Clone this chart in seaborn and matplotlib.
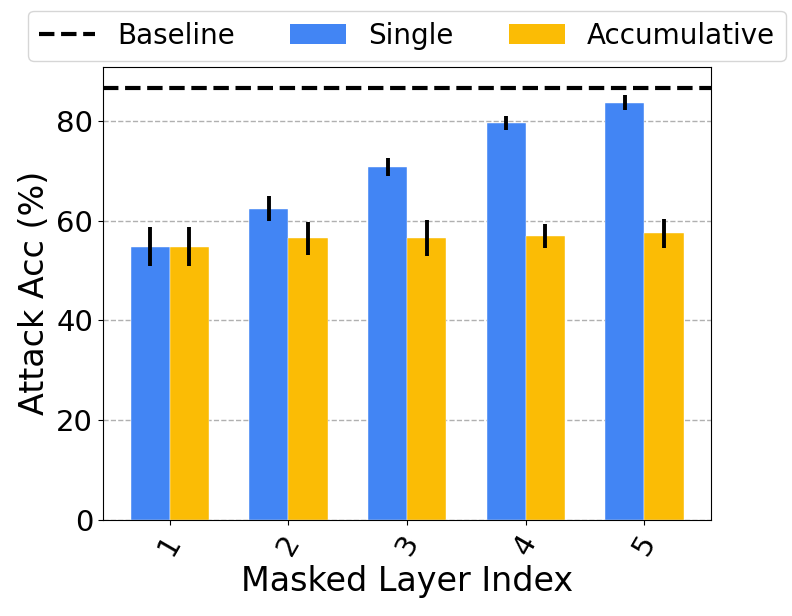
import numpy as np
import pandas as pd
import matplotlib
matplotlib.use('Agg')
import matplotlib.pyplot as plt
import seaborn as sns
from matplotlib.lines import Line2D
from matplotlib.patches import Patch

# values
layers = ['1', '2', '3', '4', '5']
single_acc = [54.8, 62.4, 70.8, 79.6, 83.7]
single_err = [3.85, 2.5, 1.75, 1.35, 1.55]
accum_acc = [54.8, 56.5, 56.5, 56.9, 57.5]
accum_err = [3.85, 3.3, 3.55, 2.4, 2.95]
baseline = 86.6

blue = '#4285F4'
yellow = '#FBBC05'

df = pd.DataFrame({
    'layer': layers * 2,
    'acc': single_acc + accum_acc,
    'err': single_err + accum_err,
    'method': ['Single'] * 5 + ['Accumulative'] * 5,
})

fig = plt.figure(figsize=(7.92, 6.16), dpi=100)
ax = fig.add_axes([0.130, 0.156, 0.768, 0.736])

sns.barplot(data=df, x='layer', y='acc', hue='method', order=layers,
            hue_order=['Single', 'Accumulative'], palette=[blue, yellow],
            saturation=1, width=0.66, errorbar=None, legend=False, ax=ax,
            edgecolor='white', linewidth=0.3, zorder=2)

# error bars on the bar centres
for bars, errs in zip(ax.containers, [single_err, accum_err]):
    xs = [b.get_x() + b.get_width() / 2 for b in bars]
    ys = [b.get_height() for b in bars]
    ax.errorbar(xs, ys, yerr=errs, fmt='none', ecolor='black', elinewidth=2.8,
                capsize=0, zorder=3)

ax.axhline(baseline, color='black', linestyle='--', linewidth=3, zorder=4)
ax.set_ylim(0, baseline * 1.05)
ax.set_axisbelow(True)
ax.yaxis.grid(True, linestyle='--', color='#b0b0b0', linewidth=1)

ax.set_xlabel('Masked Layer Index', fontsize=24)
ax.set_ylabel('Attack Acc (%)', fontsize=24)
ax.tick_params(axis='both', labelsize=21)
plt.setp(ax.get_xticklabels(), rotation=60)
for s in ax.spines.values():
    s.set_visible(True)
    s.set_color('black')

handles = [Line2D([0], [0], color='black', linestyle='--', linewidth=3),
           Patch(facecolor=blue), Patch(facecolor=yellow)]
ax.legend(handles, ['Baseline', 'Single', 'Accumulative'], ncol=3,
          loc='lower center', bbox_to_anchor=(0.5, 1.0), fontsize=20,
          borderaxespad=0.2)

fig.savefig('out.png', dpi=100)
